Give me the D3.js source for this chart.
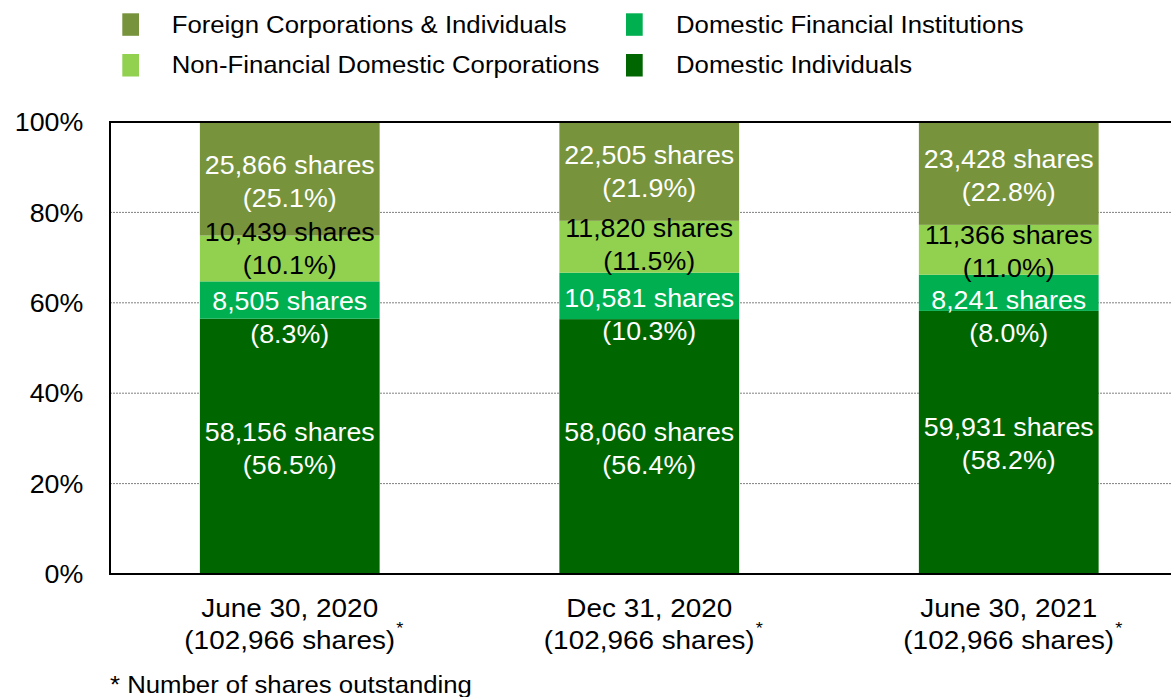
<!DOCTYPE html>
<html>
<head>
<meta charset="utf-8">
<script src="https://cdn.jsdelivr.net/npm/d3@7/dist/d3.min.js"></script>
<style>
  html, body { margin: 0; padding: 0; background: #fff; }
  svg { display: block; font-family: "Liberation Sans", Arial, sans-serif; }
</style>
</head>
<body>
<svg id="chart" width="1171" height="697"></svg>
<script>
// ---- data ----
const periods = ["June 30, 2020", "Dec 31, 2020", "June 30, 2021"];
const outstanding = [102966, 102966, 102966];
// stacked bottom → top
const seriesNames = [
  "Domestic Individuals",
  "Domestic Financial Institutions",
  "Non-Financial Domestic Corporations",
  "Foreign Corporations & Individuals"
];
const domesticIndividuals   = [58156, 58060, 59931];
const domesticFinancial     = [8505, 10581, 8241];
const nonFinancialDomestic  = [10439, 11820, 11366];
const foreignHolders        = [25866, 22505, 23428];
const yTicks = [0, 20, 40, 60, 80, 100];

// ---- styling / layout ----
const colors = {
  "Domestic Individuals": "#006600",
  "Domestic Financial Institutions": "#00B050",
  "Non-Financial Domestic Corporations": "#92D050",
  "Foreign Corporations & Individuals": "#77933C"
};
const labelColors = {
  "Domestic Individuals": "#ffffff",
  "Domestic Financial Institutions": "#ffffff",
  "Non-Financial Domestic Corporations": "#000000",
  "Foreign Corporations & Individuals": "#ffffff"
};
// vertical nudges of the value labels (px), per period, per series
const labelNudge = [
  [2.3, 17.2, -10.3, 2.3],
  [1.5, 19, -2.7, 0.6],
  [1, 24, 2.2, 1.6]
];
const SX = 1.073; // horizontal text stretch

const svg = d3.select("#chart");
const margin = { left: 110, top: 122, bottom: 574, right: 1188.5 };

const x = d3.scaleBand().domain(periods)
  .range([margin.left, margin.right])
  .paddingInner(0.5).paddingOuter(0.25);
const y = d3.scaleLinear().domain([0, 100]).range([margin.bottom, margin.top]);

function txt(g, px, py, s, size, anchor, fill) {
  return g.append("text")
    .attr("transform", `translate(${px},${py}) scale(${SX},1)`)
    .attr("text-anchor", anchor || "start")
    .attr("font-size", size)
    .attr("fill", fill || "#000")
    .text(s);
}

// gridlines
const grid = svg.append("g");
grid.selectAll("line").data(yTicks.filter(t => t > 0 && t < 100)).join("line")
  .attr("x1", margin.left).attr("x2", margin.right)
  .attr("y1", d => y(d)).attr("y2", d => y(d))
  .attr("stroke", "#808080").attr("stroke-width", 1)
  .attr("stroke-dasharray", "2,1");

// stacked data
const rows = periods.map((p, i) => ({
  period: p,
  "Domestic Individuals": domesticIndividuals[i],
  "Domestic Financial Institutions": domesticFinancial[i],
  "Non-Financial Domestic Corporations": nonFinancialDomestic[i],
  "Foreign Corporations & Individuals": foreignHolders[i],
  total: outstanding[i]
}));
const stack = d3.stack().keys(seriesNames)
  .value((d, k) => d[k] / d.total * 100);
const layers = stack(rows);

const bars = svg.append("g");
layers.forEach(layer => {
  bars.selectAll(null).data(layer).join("rect")
    .attr("x", d => x(d.data.period))
    .attr("width", x.bandwidth())
    .attr("y", d => y(d[1]))
    .attr("height", d => y(d[0]) - y(d[1]))
    .attr("fill", colors[layer.key]);
});

// value labels
const fmt = d3.format(",");
const labels = svg.append("g");
layers.forEach((layer, si) => {
  layer.forEach((d, pi) => {
    const cx = x(d.data.period) + x.bandwidth() / 2;
    const cy = (y(d[0]) + y(d[1])) / 2 + labelNudge[pi][si];
    const shares = d.data[layer.key];
    const pct = (shares / d.data.total * 100).toFixed(1);
    const col = labelColors[layer.key];
    txt(labels, cx, cy - 16.5 + 9, fmt(shares) + " shares", 25, "middle", col);
    txt(labels, cx, cy + 16.5 + 9, "(" + pct + "%)", 25, "middle", col);
  });
});

// axes frame
const frame = svg.append("g").attr("stroke", "#000").attr("stroke-width", 2);
frame.append("line").attr("x1", margin.left).attr("x2", margin.right + 10)
  .attr("y1", y(100)).attr("y2", y(100));
frame.append("line").attr("x1", margin.left).attr("x2", margin.right + 10)
  .attr("y1", y(0)).attr("y2", y(0));
frame.append("line").attr("x1", margin.left).attr("x2", margin.left)
  .attr("y1", y(100) - 1).attr("y2", y(0) + 1);

// y tick labels
const yl = svg.append("g");
yTicks.forEach(t => txt(yl, 83.3, y(t) + 9.2, t + "%", 25, "end"));

// category labels
const xl = svg.append("g");
periods.forEach((p, i) => {
  const cx = x(p) + x.bandwidth() / 2;
  txt(xl, cx, 616.7, p, 26, "middle");
  const t2 = txt(xl, cx, 649, "(" + fmt(outstanding[i]) + " shares)", 26, "middle");
  const w = t2.node().getComputedTextLength() * SX;
  txt(xl, cx + w / 2 + 1, 634, "*", 17, "start");
});

// footnote
txt(svg, 110, 693, "* Number of shares outstanding", 24, "start");

// legend
const legendItems = [
  { name: "Foreign Corporations & Individuals", col: 0, row: 0 },
  { name: "Domestic Financial Institutions", col: 1, row: 0 },
  { name: "Non-Financial Domestic Corporations", col: 0, row: 1 },
  { name: "Domestic Individuals", col: 1, row: 1 }
];
const legX = [122.3, 626], legTextX = [171.7, 676], legY = [13.3, 54];
const leg = svg.append("g");
legendItems.forEach(it => {
  leg.append("rect")
    .attr("x", legX[it.col]).attr("y", legY[it.row])
    .attr("width", 16.7).attr("height", 22.5)
    .attr("fill", colors[it.name]);
  txt(leg, legTextX[it.col], legY[it.row] + 19.2, it.name, 24, "start");
});
</script>
</body>
</html>
